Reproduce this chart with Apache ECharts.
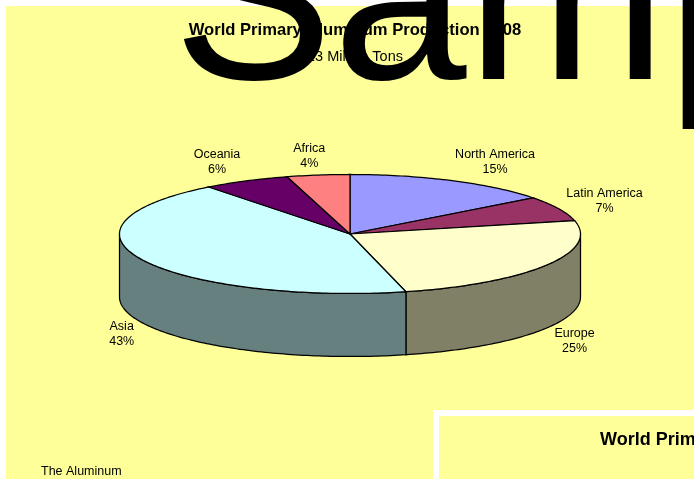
<!DOCTYPE html>
<html lang="en">
<head>
  <meta charset="UTF-8">
  <title>World Primary Aluminum Production</title>
  <style>
    html, body { margin: 0; padding: 0; background: #fff; overflow: hidden; }
    #chart { width: 694px; height: 479px; }
  </style>
  <script src="https://cdn.jsdelivr.net/npm/echarts@6/dist/echarts.min.js"></script>
</head>
<body>
<div id="chart"></div>
<script>
  // data, clockwise from 12 o'clock. share of the total in percent
  var regions = ['North America', 'Latin America', 'Europe', 'Asia', 'Oceania', 'Africa'];
  var shares = [14.6, 6.8, 24.7, 43.4, 6.1, 4.4];

  var topColors = ['#9999FF', '#993366', '#FFFFCC', '#CCFFFF', '#660066', '#FF8080'];
  var sideColors = ['#4D4D80', '#4D1A33', '#808066', '#668080', '#330033', '#804040'];
  // label centre relative to the rim point at the middle of the slice
  var labelOffsets = [[43, -19], [46, -8], [28, 76], [-21, 74], [-29, -19], [-9, -19.5]];

  var font = '"Liberation Sans", Arial, sans-serif';
  var cx = 350, cy = 234, rx = 230.5, ry = 59.5, depth = 63;

  var chart = echarts.init(document.getElementById('chart'), null, { renderer: 'canvas' });

  var total = shares.reduce(function (a, b) { return a + b; }, 0);
  var sliceRows = [];
  var cum = 0;
  shares.forEach(function (v, i) {
    sliceRows.push([cum / total * 360, (cum + v) / total * 360, i]);
    cum += v;
  });

  function rim(deg, drop) {
    var r = deg * Math.PI / 180;
    return [cx + rx * Math.sin(r), cy - ry * Math.cos(r) + (drop || 0)];
  }

  function arcPoints(a0, a1, drop) {
    var pts = [];
    var n = Math.max(2, Math.ceil(Math.abs(a1 - a0)));
    for (var k = 0; k <= n; k++) {
      pts.push(rim(a0 + (a1 - a0) * k / n, drop));
    }
    return pts;
  }

  // wall below the front half of the ellipse (90..270 deg)
  function renderSide(params, api) {
    var a0 = Math.max(api.value(0), 90);
    var a1 = Math.min(api.value(1), 270);
    if (a1 <= a0) return null;
    var i = api.value(2);
    var pts = arcPoints(a0, a1, 0).concat(arcPoints(a1, a0, depth));
    return {
      type: 'polygon',
      shape: { points: pts },
      style: { fill: sideColors[i], stroke: '#000', lineWidth: 1.25 }
    };
  }

  function renderTop(params, api) {
    var a0 = api.value(0), a1 = api.value(1), i = api.value(2);
    var pts = [[cx, cy]].concat(arcPoints(a0, a1, 0));
    return {
      type: 'polygon',
      shape: { points: pts },
      style: { fill: topColors[i], stroke: '#000', lineWidth: 1.25 }
    };
  }

  function renderLabel(params, api) {
    var i = api.value(2);
    var p = rim((api.value(0) + api.value(1)) / 2, 0);
    return {
      type: 'text',
      x: p[0] + labelOffsets[i][0],
      y: p[1] + labelOffsets[i][1],
      style: {
        text: regions[i] + '\n' + Math.round(shares[i]) + '%',
        align: 'center',
        verticalAlign: 'middle',
        lineHeight: 15,
        font: '12.5px ' + font,
        fill: '#000'
      }
    };
  }

  var option = {
    animation: false,
    backgroundColor: '#fff',
    title: {
      text: 'World Primary Aluminum Production 2008',
      subtext: '23 Million Tons',
      left: 350,
      top: 17,
      textAlign: 'center',
      itemGap: 10,
      textStyle: { fontFamily: font, fontSize: 16.6, fontWeight: 'bold', color: '#000' },
      subtextStyle: { fontFamily: font, fontSize: 14.5, color: '#000' }
    },
    graphic: [
      { type: 'rect', z: -10, shape: { x: 6, y: 6, width: 688, height: 473 }, style: { fill: '#FFFF99' } },
      { type: 'rect', z: -9, shape: { x: 433, y: 410, width: 261, height: 69 }, style: { fill: '#fff' } },
      { type: 'rect', z: -8, shape: { x: 439, y: 416, width: 255, height: 63 }, style: { fill: '#FFFF99' } },
      { type: 'text', z: 1, x: 600, y: 440, style: { text: 'World Primary Aluminum Production 2008', verticalAlign: 'middle', font: 'bold 18px ' + font, fill: '#000' } },
      { type: 'text', z: 1, x: 41, y: 472, style: { text: 'The Aluminum', verticalAlign: 'middle', font: '12.5px ' + font, fill: '#000' } },
      { type: 'text', z: 100, x: 173, y: -107, style: { text: 'Sample', font: '240px ' + font, fill: '#000' } }
    ],
    series: [
      { type: 'custom', coordinateSystem: 'none', silent: true, z: 2, renderItem: renderSide, data: sliceRows },
      { type: 'custom', coordinateSystem: 'none', silent: true, z: 3, renderItem: renderTop, data: sliceRows },
      { type: 'custom', coordinateSystem: 'none', silent: true, z: 4, renderItem: renderLabel, data: sliceRows }
    ]
  };

  chart.setOption(option);
</script>
</body>
</html>
